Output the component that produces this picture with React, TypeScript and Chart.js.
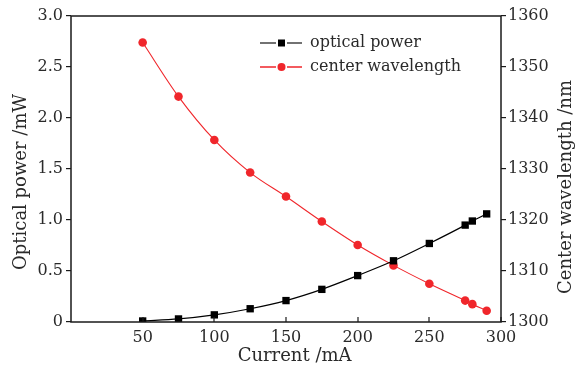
import React, { useEffect, useRef } from "react";
import { Chart, registerables } from "chart.js";

Chart.register(...registerables);

const currents = [50, 75, 100, 125, 150, 175, 200, 225, 250, 275, 280, 290];
const opticalPower = [0.01, 0.03, 0.07, 0.13, 0.21, 0.32, 0.455, 0.6, 0.77, 0.95, 0.99, 1.06];
const centerWavelength = [1354.8, 1344.2, 1335.7, 1329.3, 1324.6, 1319.7, 1315.1, 1311.1, 1307.5, 1304.2, 1303.5, 1302.2];
const seriesNames = ["optical power", "center wavelength"];
const seriesColors = ["#000000", "#f0262b"];
const xTitle = "Current /mA";
const yTitle = "Optical power /mW";
const y1Title = "Center wavelength /nm";

const FONT = "'DejaVu Serif', serif";
const TEXT = "#2a2a2a";

const framePlugin = {
  id: "frame",
  afterDraw(chart: any) {
    const { ctx, chartArea, scales } = chart;
    const { left, right, top, bottom } = chartArea;
    ctx.save();
    ctx.strokeStyle = "#1a1a1a";
    ctx.lineWidth = 1.5;
    ctx.strokeRect(left, top, right - left, bottom - top);
    const xs = scales.x;
    ctx.lineWidth = 1.2;
    xs.ticks.forEach((t: any) => {
      if (t.value === 0) return;
      const px = Math.round(xs.getPixelForValue(t.value));
      ctx.beginPath();
      ctx.moveTo(px, bottom);
      ctx.lineTo(px, bottom - 5);
      ctx.stroke();
    });
    // axis titles
    ctx.fillStyle = TEXT;
    ctx.font = `18px ${FONT}`;
    ctx.textAlign = "center";
    ctx.textBaseline = "middle";
    ctx.fillText(xTitle, left + (right - left) * 0.52, 356);
    const midY = (top + bottom) / 2;
    ctx.save();
    ctx.translate(21, midY + 13);
    ctx.rotate(-Math.PI / 2);
    ctx.fillText(yTitle, 0, 0);
    ctx.restore();
    ctx.save();
    ctx.translate(566, midY + 18);
    ctx.rotate(-Math.PI / 2);
    ctx.fillText(y1Title, 0, 0);
    ctx.restore();
    // legend
    const rows = [43, 67];
    ctx.font = `16px ${FONT}`;
    ctx.textBaseline = "middle";
    ctx.textAlign = "left";
    rows.forEach((y, i) => {
      ctx.strokeStyle = i === 0 ? "#444" : seriesColors[1];
      ctx.lineWidth = 1.3;
      ctx.beginPath();
      ctx.moveTo(260, y);
      ctx.lineTo(276, y);
      ctx.moveTo(287, y);
      ctx.lineTo(302, y);
      ctx.stroke();
      ctx.fillStyle = seriesColors[i];
      if (i === 0) {
        ctx.fillRect(278, y - 3.5, 7, 7);
      } else {
        ctx.beginPath();
        ctx.arc(281.5, y, 4, 0, Math.PI * 2);
        ctx.fill();
      }
      ctx.fillStyle = TEXT;
      ctx.fillText(seriesNames[i], 310, y);
    });
    ctx.restore();
  },
};

export default function App() {
  const ref = useRef<HTMLCanvasElement>(null);
  useEffect(() => {
    document.body.style.margin = "0";
    const chart = new Chart(ref.current!, {
      type: "line",
      data: {
        datasets: [
          {
            label: seriesNames[0],
            data: currents.map((x, i) => ({ x, y: opticalPower[i] })),
            borderColor: seriesColors[0],
            backgroundColor: seriesColors[0],
            borderWidth: 1.2,
            pointStyle: "rect",
            pointRadius: 5.2,
            pointBorderWidth: 0,
            cubicInterpolationMode: "monotone",
            yAxisID: "y",
          },
          {
            label: seriesNames[1],
            data: currents.map((x, i) => ({ x, y: centerWavelength[i] })),
            borderColor: seriesColors[1],
            backgroundColor: seriesColors[1],
            borderWidth: 1.1,
            pointStyle: "circle",
            pointRadius: 4.3,
            pointBorderWidth: 0,
            cubicInterpolationMode: "monotone",
            yAxisID: "y1",
          },
        ],
      },
      options: {
        animation: false,
        responsive: false,
        layout: { padding: { top: 16, left: 0, right: 0, bottom: 0 } },
        plugins: { legend: { display: false }, tooltip: { enabled: false } },
        scales: {
          x: {
            type: "linear",
            min: 0,
            max: 300,
            grid: { display: false, drawTicks: false },
            border: { display: false },
            ticks: {
              stepSize: 50,
              padding: 6,
              color: TEXT,
              font: { family: FONT, size: 16 },
              callback: (v: any) => (v === 0 ? "" : String(v)),
            },
            afterFit: (s: any) => {
              s.height = 46;
            },
          },
          y: {
            position: "left",
            min: 0,
            max: 3,
            grid: { display: true, drawOnChartArea: false, tickLength: 5, color: "#1a1a1a", lineWidth: 1.2 },
            border: { display: false },
            ticks: {
              stepSize: 0.5,
              padding: 3,
              color: TEXT,
              font: { family: FONT, size: 16 },
              callback: (v: any) => (v === 0 ? "0" : Number(v).toFixed(1)),
            },
            afterFit: (s: any) => {
              s.width = 71;
            },
          },
          y1: {
            position: "right",
            min: 1300,
            max: 1360,
            grid: { display: true, drawOnChartArea: false, tickLength: 5, color: "#1a1a1a", lineWidth: 1.2 },
            border: { display: false },
            ticks: {
              stepSize: 10,
              padding: 2,
              color: TEXT,
              font: { family: FONT, size: 16 },
              callback: (v: any) => String(v),
            },
            afterFit: (s: any) => {
              s.width = 84;
            },
          },
        },
      } as any,
      plugins: [framePlugin],
    });
    return () => chart.destroy();
  }, []);
  return (
    <div style={{ width: 585, height: 368 }}>
      <canvas ref={ref} width={585} height={368} />
    </div>
  );
}
